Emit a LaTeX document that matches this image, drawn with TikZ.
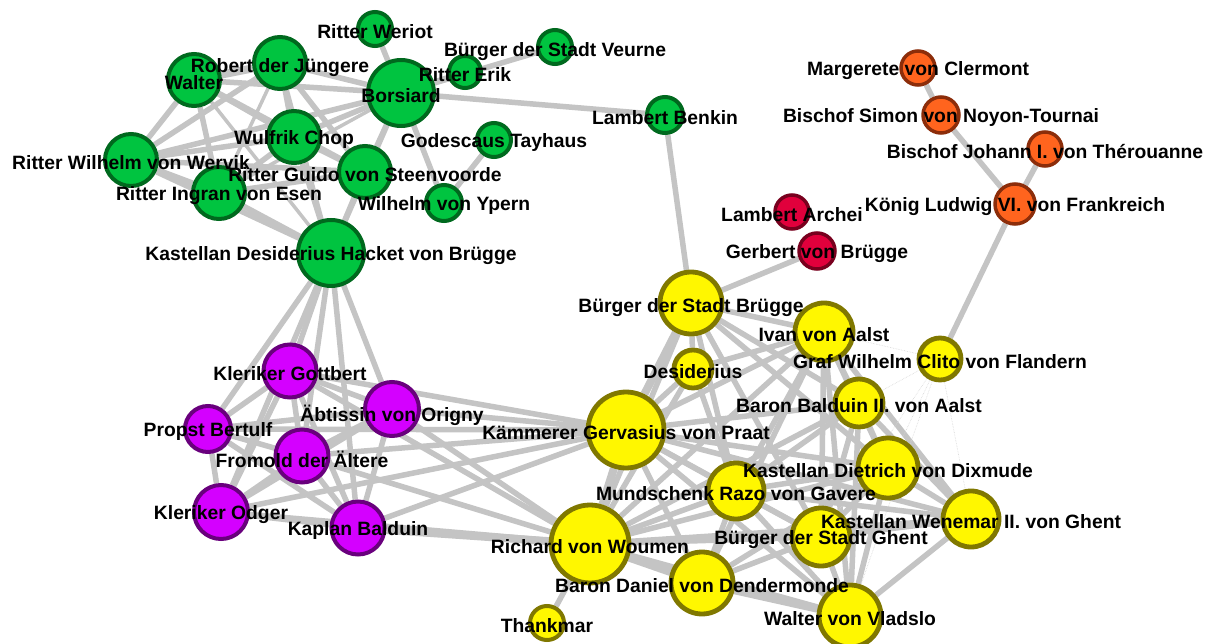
\documentclass[tikz,border=0pt]{standalone}
\usepackage{fontspec}
\setmainfont{Liberation Sans}
\pgfdeclarelayer{bg}
\pgfdeclarelayer{edges}
\pgfdeclarelayer{labels}
\pgfsetlayers{bg,edges,main,labels}
\definecolor{edgec}{RGB}{196,196,196}
\definecolor{gnf}{RGB}{0,196,64}\definecolor{gnd}{RGB}{0,105,30}
\definecolor{puf}{RGB}{212,0,255}\definecolor{pud}{RGB}{105,0,125}
\definecolor{yef}{RGB}{255,247,0}\definecolor{yed}{RGB}{128,120,0}
\definecolor{orf}{RGB}{255,100,30}\definecolor{ord}{RGB}{140,45,10}
\definecolor{rdf}{RGB}{225,0,60}\definecolor{rdd}{RGB}{120,0,30}
\tikzset{
  nd/.style={circle,inner sep=0pt,line width=4pt},
  gn/.style={nd,fill=gnf,draw=gnd},
  pu/.style={nd,fill=puf,draw=pud},
  ye/.style={nd,fill=yef,draw=yed,line width=4.8pt},
  orn/.style={nd,fill=orf,draw=ord,line width=3.5pt},
  rd/.style={nd,fill=rdf,draw=rdd,line width=3.5pt},
  lab/.style={inner sep=0pt,yshift=-3pt,font=\bfseries\fontsize{19.3}{20}\selectfont},
  e/.style={draw=edgec,line width=5.5pt},
  et/.style={draw=edgec,line width=3.5pt},
  ek/.style={draw=edgec,line width=8pt},
  ef/.style={draw=edgec!70,line width=0.6pt,densely dotted}
}
\begin{document}
\begin{tikzpicture}[x=1pt,y=-1pt]
\begin{pgfonlayer}{bg}
\fill[white] (0,0) rectangle (1210,644);
\end{pgfonlayer}
\useasboundingbox (0,0) rectangle (1210,644);
% green
\node[gn,minimum size=34pt] (weriot) at (375,29) {};
\node[gn,minimum size=52pt] (walter) at (194,80) {};
\node[gn,minimum size=52pt] (robert) at (280,63) {};
\node[gn,minimum size=66pt] (borsiard) at (401,93) {};
\node[gn,minimum size=32pt] (erik) at (465,72) {};
\node[gn,minimum size=34pt] (veurne) at (555,47) {};
\node[gn,minimum size=52pt] (wulfrik) at (294,137) {};
\node[gn,minimum size=34pt] (godescaus) at (494,140) {};
\node[gn,minimum size=52pt] (wervik) at (131,160) {};
\node[gn,minimum size=52pt] (guido) at (365,172) {};
\node[gn,minimum size=52pt] (ingran) at (219,193) {};
\node[gn,minimum size=36pt] (ypern) at (444,203) {};
\node[gn,minimum size=66pt] (hacket) at (331,253) {};
\node[gn,minimum size=36pt] (benkin) at (665,115) {};
% orange
\node[orn,minimum size=34pt] (margerete) at (918,68) {};
\node[orn,minimum size=36pt] (simon) at (941,115) {};
\node[orn,minimum size=34pt] (johann) at (1045,149) {};
\node[orn,minimum size=40pt] (ludwig) at (1015,204) {};
% red
\node[rd,minimum size=34pt] (archei) at (792,212) {};
\node[rd,minimum size=36pt] (gerbert) at (817,251) {};
% yellow
\node[ye,minimum size=62pt] (bruegge) at (691,303) {};
\node[ye,minimum size=58pt] (ivan) at (824,332) {};
\node[ye,minimum size=42pt] (clito) at (940,359) {};
\node[ye,minimum size=38pt] (desiderius) at (693,369) {};
\node[ye,minimum size=48pt] (balduin) at (859,403) {};
\node[ye,minimum size=76pt] (gervasius) at (626,430) {};
\node[ye,minimum size=60pt] (dietrich) at (888,468) {};
\node[ye,minimum size=56pt] (razo) at (736,491) {};
\node[ye,minimum size=56pt] (wenemar) at (971,519) {};
\node[ye,minimum size=58pt] (ghent) at (821,537) {};
\node[ye,minimum size=78pt] (richard) at (590,544) {};
\node[ye,minimum size=62pt] (daniel) at (702,583) {};
\node[ye,minimum size=62pt] (vladslo) at (850,616) {};
\node[ye,minimum size=34pt,line width=4pt] (thankmar) at (547,623) {};
% purple
\node[pu,minimum size=53pt] (gottbert) at (290,371) {};
\node[pu,minimum size=54pt] (abtissin) at (392,409) {};
\node[pu,minimum size=46pt] (propst) at (208,429) {};
\node[pu,minimum size=53pt] (fromold) at (302,456) {};
\node[pu,minimum size=54pt] (odger) at (221,512) {};
\node[pu,minimum size=53pt] (kaplan) at (358,528) {};

\begin{pgfonlayer}{edges}
% green cluster
\draw[ek] (walter) -- (robert);
\draw[e] (walter) -- (borsiard);
\draw[e] (walter) -- (wervik);
\draw[e] (walter) -- (wulfrik);
\draw[e] (walter) -- (guido);
\draw[e] (walter) -- (ingran);
\draw[et] (walter) -- (hacket);
\draw[e] (robert) -- (borsiard);
\draw[e] (robert) -- (wervik);
\draw[e] (robert) -- (wulfrik);
\draw[e] (robert) -- (guido);
\draw[et] (robert) -- (ingran);
\draw[et] (robert) -- (hacket);
\draw[e] (borsiard) -- (wervik);
\draw[e] (borsiard) -- (wulfrik);
\draw[e] (borsiard) -- (guido);
\draw[e] (borsiard) -- (hacket);
\draw[e] (borsiard) -- (weriot);
\draw[e] (borsiard) -- (erik);
\draw[e] (borsiard) -- (veurne);
\draw[e] (borsiard) -- (benkin);
\draw[e] (borsiard) -- (ypern);
\draw[et] (borsiard) -- (ingran);
\draw[e] (wulfrik) -- (wervik);
\draw[e] (wulfrik) -- (guido);
\draw[e] (wulfrik) -- (ingran);
\draw[e] (wulfrik) -- (hacket);
\draw[e] (wervik) -- (ingran);
\draw[e] (wervik) -- (guido);
\draw[e] (wervik) -- (hacket);
\draw[e] (guido) -- (ingran);
\draw[e] (guido) -- (hacket);
\draw[e] (ingran) -- (hacket);
\draw[e] (godescaus) -- (ypern);
\draw[e] (benkin) -- (bruegge);
% hacket to purple
\draw[e] (hacket) -- (gottbert);
\draw[e] (hacket) -- (propst);
\draw[e] (hacket) -- (odger);
\draw[e] (hacket) -- (fromold);
\draw[e] (hacket) -- (kaplan);
\draw[e] (hacket) -- (abtissin);
% purple cluster
\draw[e] (gottbert) -- (propst);
\draw[e] (gottbert) -- (fromold);
\draw[e] (gottbert) -- (odger);
\draw[e] (gottbert) -- (kaplan);
\draw[e] (gottbert) -- (abtissin);
\draw[e] (propst) -- (fromold);
\draw[e] (propst) -- (odger);
\draw[e] (propst) -- (kaplan);
\draw[e] (propst) -- (abtissin);
\draw[e] (fromold) -- (odger);
\draw[e] (fromold) -- (kaplan);
\draw[e] (fromold) -- (abtissin);
\draw[e] (odger) -- (kaplan);
\draw[e] (odger) -- (abtissin);
\draw[e] (kaplan) -- (abtissin);
% purple to yellow
\draw[e] (gottbert) -- (gervasius);
\draw[e] (gottbert) -- (richard);
\draw[e] (abtissin) -- (gervasius);
\draw[e] (abtissin) -- (richard);
\draw[e] (fromold) -- (gervasius);
\draw[e] (fromold) -- (richard);
\draw[e] (propst) -- (gervasius);
\draw[e] (odger) -- (gervasius);
\draw[e] (odger) -- (richard);
\draw[e] (kaplan) -- (gervasius);
\draw[ek] (kaplan) -- (richard);
% yellow cluster
\draw[e] (bruegge) -- (gerbert);
\draw[ek] (bruegge) -- (gervasius);
\draw[e] (bruegge) -- (desiderius);
\draw[e] (bruegge) -- (ivan);
\draw[e] (bruegge) -- (razo);
\draw[e] (bruegge) -- (richard);
\draw[e] (bruegge) -- (balduin);
\draw[e] (bruegge) -- (ghent);
\draw[e] (bruegge) -- (dietrich);
\draw[e] (desiderius) -- (gervasius);
\draw[e] (desiderius) -- (ivan);
\draw[e] (desiderius) -- (razo);
\draw[e] (desiderius) -- (richard);
\draw[e] (ivan) -- (gervasius);
\draw[e] (ivan) -- (balduin);
\draw[e] (ivan) -- (dietrich);
\draw[e] (ivan) -- (razo);
\draw[e] (ivan) -- (ghent);
\draw[e] (ivan) -- (richard);
\draw[e] (ivan) -- (daniel);
\draw[e] (ivan) -- (vladslo);
\draw[e] (ivan) -- (wenemar);
\draw[e] (clito) -- (ludwig);
\draw[ef] (clito) -- (ivan);
\draw[ef] (clito) -- (balduin);
\draw[ef] (clito) -- (dietrich);
\draw[ef] (clito) -- (wenemar);
\draw[ef] (clito) -- (ghent);
\draw[ef] (clito) -- (vladslo);
\draw[e] (balduin) -- (gervasius);
\draw[e] (balduin) -- (dietrich);
\draw[e] (balduin) -- (razo);
\draw[e] (balduin) -- (ghent);
\draw[e] (balduin) -- (wenemar);
\draw[e] (balduin) -- (richard);
\draw[e] (balduin) -- (vladslo);
\draw[e] (gervasius) -- (razo);
\draw[ek] (gervasius) -- (richard);
\draw[e] (gervasius) -- (daniel);
\draw[e] (gervasius) -- (ghent);
\draw[e] (gervasius) -- (dietrich);
\draw[e] (gervasius) -- (vladslo);
\draw[e] (gervasius) -- (wenemar);
\draw[e] (dietrich) -- (razo);
\draw[e] (dietrich) -- (ghent);
\draw[e] (dietrich) -- (wenemar);
\draw[e] (dietrich) -- (vladslo);
\draw[e] (dietrich) -- (richard);
\draw[e] (dietrich) -- (daniel);
\draw[e] (razo) -- (richard);
\draw[e] (razo) -- (daniel);
\draw[e] (razo) -- (ghent);
\draw[e] (razo) -- (vladslo);
\draw[e] (razo) -- (wenemar);
\draw[e] (wenemar) -- (ghent);
\draw[e] (wenemar) -- (vladslo);
\draw[e] (wenemar) -- (richard);
\draw[e] (ghent) -- (richard);
\draw[e] (ghent) -- (daniel);
\draw[e] (ghent) -- (vladslo);
\draw[ek] (richard) -- (daniel);
\draw[e] (richard) -- (vladslo);
\draw[e] (richard) -- (thankmar);
\draw[ek] (daniel) -- (vladslo);
% orange
\draw[e] (margerete) -- (simon);
\draw[e] (simon) -- (ludwig);
\draw[e] (johann) -- (ludwig);
\end{pgfonlayer}

\begin{pgfonlayer}{labels}
\node[lab] at (weriot) {Ritter Weriot};
\node[lab] at (walter) {Walter};
\node[lab,yshift=-2pt] at (robert) {Robert der Jüngere};
\node[lab] at (borsiard) {Borsiard};
\node[lab] at (erik) {Ritter Erik};
\node[lab,yshift=-2pt] at (veurne) {Bürger der Stadt Veurne};
\node[lab] at (wulfrik) {Wulfrik Chop};
\node[lab] at (godescaus) {Godescaus Tayhaus};
\node[lab] at (wervik) {Ritter Wilhelm von Wervik};
\node[lab] at (guido) {Ritter Guido von Steenvoorde};
\node[lab] at (ingran) {Ritter Ingran von Esen};
\node[lab] at (ypern) {Wilhelm von Ypern};
\node[lab] at (hacket) {Kastellan Desiderius Hacket von Brügge};
\node[lab] at (benkin) {Lambert Benkin};
\node[lab] at (margerete) {Margerete von Clermont};
\node[lab] at (simon) {Bischof Simon von Noyon-Tournai};
\node[lab] at (johann) {Bischof Johann I. von Thérouanne};
\node[lab] at (ludwig) {König Ludwig VI. von Frankreich};
\node[lab] at (archei) {Lambert Archei};
\node[lab] at (gerbert) {Gerbert von Brügge};
\node[lab,yshift=-2pt] at (bruegge) {Bürger der Stadt Brügge};
\node[lab] at (ivan) {Ivan von Aalst};
\node[lab] at (clito) {Graf Wilhelm Clito von Flandern};
\node[lab] at (desiderius) {Desiderius};
\node[lab] at (balduin) {Baron Balduin II. von Aalst};
\node[lab] at (gervasius) {Kämmerer Gervasius von Praat};
\node[lab] at (dietrich) {Kastellan Dietrich von Dixmude};
\node[lab] at (razo) {Mundschenk Razo von Gavere};
\node[lab] at (wenemar) {Kastellan Wenemar II. von Ghent};
\node[lab] at (ghent) {Bürger der Stadt Ghent};
\node[lab] at (richard) {Richard von Woumen};
\node[lab] at (daniel) {Baron Daniel von Dendermonde};
\node[lab] at (vladslo) {Walter von Vladslo};
\node[lab] at (thankmar) {Thankmar};
\node[lab] at (gottbert) {Kleriker Gottbert};
\node[lab,yshift=-3pt] at (abtissin) {Äbtissin von Origny};
\node[lab] at (propst) {Propst Bertulf};
\node[lab] at (fromold) {Fromold der Ältere};
\node[lab] at (odger) {Kleriker Odger};
\node[lab] at (kaplan) {Kaplan Balduin};
\end{pgfonlayer}
\end{tikzpicture}
\end{document}
